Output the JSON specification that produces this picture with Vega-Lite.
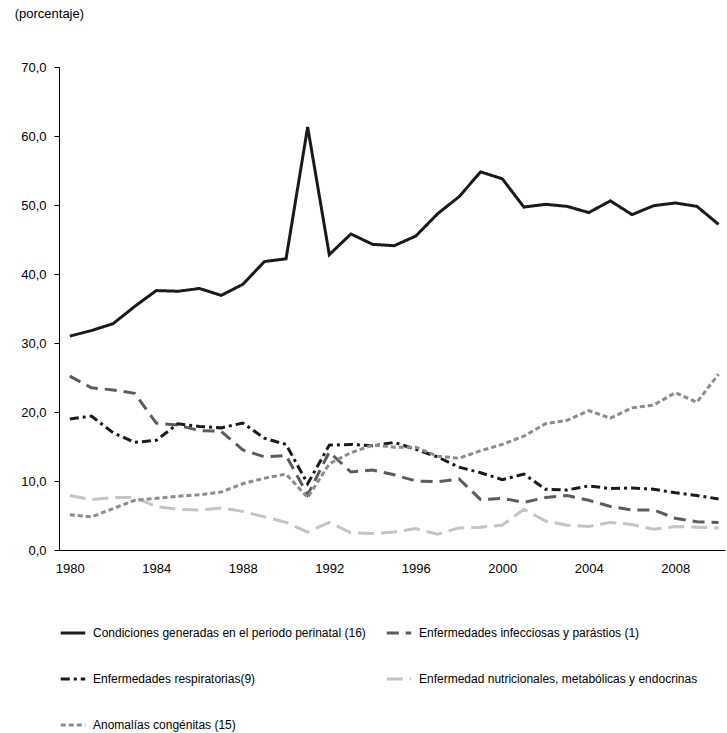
{
  "$schema": "https://vega.github.io/schema/vega-lite/v6.json",
  "autosize": {"type": "fit", "contains": "padding"},
  "width": 727,
  "height": 733,
  "padding": {"left": 14, "right": 2, "top": 8, "bottom": 2},
  "background": "white",
  "title": {"text": "(porcentaje)", "anchor": "start", "frame": "bounds", "fontSize": 13, "fontWeight": "normal", "offset": 40, "dx": -6},
  "data": {"values": [
    {"year":1980,"serie":"Condiciones generadas en el periodo perinatal (16)","valor":31.0},
    {"year":1981,"serie":"Condiciones generadas en el periodo perinatal (16)","valor":31.8},
    {"year":1982,"serie":"Condiciones generadas en el periodo perinatal (16)","valor":32.8},
    {"year":1983,"serie":"Condiciones generadas en el periodo perinatal (16)","valor":35.3},
    {"year":1984,"serie":"Condiciones generadas en el periodo perinatal (16)","valor":37.6},
    {"year":1985,"serie":"Condiciones generadas en el periodo perinatal (16)","valor":37.5},
    {"year":1986,"serie":"Condiciones generadas en el periodo perinatal (16)","valor":37.9},
    {"year":1987,"serie":"Condiciones generadas en el periodo perinatal (16)","valor":36.9},
    {"year":1988,"serie":"Condiciones generadas en el periodo perinatal (16)","valor":38.5},
    {"year":1989,"serie":"Condiciones generadas en el periodo perinatal (16)","valor":41.8},
    {"year":1990,"serie":"Condiciones generadas en el periodo perinatal (16)","valor":42.2},
    {"year":1991,"serie":"Condiciones generadas en el periodo perinatal (16)","valor":61.3},
    {"year":1992,"serie":"Condiciones generadas en el periodo perinatal (16)","valor":42.8},
    {"year":1993,"serie":"Condiciones generadas en el periodo perinatal (16)","valor":45.8},
    {"year":1994,"serie":"Condiciones generadas en el periodo perinatal (16)","valor":44.3},
    {"year":1995,"serie":"Condiciones generadas en el periodo perinatal (16)","valor":44.1},
    {"year":1996,"serie":"Condiciones generadas en el periodo perinatal (16)","valor":45.5},
    {"year":1997,"serie":"Condiciones generadas en el periodo perinatal (16)","valor":48.7},
    {"year":1998,"serie":"Condiciones generadas en el periodo perinatal (16)","valor":51.2},
    {"year":1999,"serie":"Condiciones generadas en el periodo perinatal (16)","valor":54.8},
    {"year":2000,"serie":"Condiciones generadas en el periodo perinatal (16)","valor":53.8},
    {"year":2001,"serie":"Condiciones generadas en el periodo perinatal (16)","valor":49.7},
    {"year":2002,"serie":"Condiciones generadas en el periodo perinatal (16)","valor":50.1},
    {"year":2003,"serie":"Condiciones generadas en el periodo perinatal (16)","valor":49.8},
    {"year":2004,"serie":"Condiciones generadas en el periodo perinatal (16)","valor":48.9},
    {"year":2005,"serie":"Condiciones generadas en el periodo perinatal (16)","valor":50.6},
    {"year":2006,"serie":"Condiciones generadas en el periodo perinatal (16)","valor":48.6},
    {"year":2007,"serie":"Condiciones generadas en el periodo perinatal (16)","valor":49.9},
    {"year":2008,"serie":"Condiciones generadas en el periodo perinatal (16)","valor":50.3},
    {"year":2009,"serie":"Condiciones generadas en el periodo perinatal (16)","valor":49.8},
    {"year":2010,"serie":"Condiciones generadas en el periodo perinatal (16)","valor":47.2},
    {"year":1980,"serie":"Enfermedades infecciosas y parástios (1)","valor":25.2},
    {"year":1981,"serie":"Enfermedades infecciosas y parástios (1)","valor":23.5},
    {"year":1982,"serie":"Enfermedades infecciosas y parástios (1)","valor":23.2},
    {"year":1983,"serie":"Enfermedades infecciosas y parástios (1)","valor":22.7},
    {"year":1984,"serie":"Enfermedades infecciosas y parástios (1)","valor":18.4},
    {"year":1985,"serie":"Enfermedades infecciosas y parástios (1)","valor":18.1},
    {"year":1986,"serie":"Enfermedades infecciosas y parástios (1)","valor":17.3},
    {"year":1987,"serie":"Enfermedades infecciosas y parástios (1)","valor":17.2},
    {"year":1988,"serie":"Enfermedades infecciosas y parástios (1)","valor":14.5},
    {"year":1989,"serie":"Enfermedades infecciosas y parástios (1)","valor":13.5},
    {"year":1990,"serie":"Enfermedades infecciosas y parástios (1)","valor":13.7},
    {"year":1991,"serie":"Enfermedades infecciosas y parástios (1)","valor":8.0},
    {"year":1992,"serie":"Enfermedades infecciosas y parástios (1)","valor":14.2},
    {"year":1993,"serie":"Enfermedades infecciosas y parástios (1)","valor":11.3},
    {"year":1994,"serie":"Enfermedades infecciosas y parástios (1)","valor":11.6},
    {"year":1995,"serie":"Enfermedades infecciosas y parástios (1)","valor":10.9},
    {"year":1996,"serie":"Enfermedades infecciosas y parástios (1)","valor":10.0},
    {"year":1997,"serie":"Enfermedades infecciosas y parástios (1)","valor":9.9},
    {"year":1998,"serie":"Enfermedades infecciosas y parástios (1)","valor":10.3},
    {"year":1999,"serie":"Enfermedades infecciosas y parástios (1)","valor":7.3},
    {"year":2000,"serie":"Enfermedades infecciosas y parástios (1)","valor":7.5},
    {"year":2001,"serie":"Enfermedades infecciosas y parástios (1)","valor":6.9},
    {"year":2002,"serie":"Enfermedades infecciosas y parástios (1)","valor":7.6},
    {"year":2003,"serie":"Enfermedades infecciosas y parástios (1)","valor":7.9},
    {"year":2004,"serie":"Enfermedades infecciosas y parástios (1)","valor":7.2},
    {"year":2005,"serie":"Enfermedades infecciosas y parástios (1)","valor":6.3},
    {"year":2006,"serie":"Enfermedades infecciosas y parástios (1)","valor":5.8},
    {"year":2007,"serie":"Enfermedades infecciosas y parástios (1)","valor":5.8},
    {"year":2008,"serie":"Enfermedades infecciosas y parástios (1)","valor":4.6},
    {"year":2009,"serie":"Enfermedades infecciosas y parástios (1)","valor":4.1},
    {"year":2010,"serie":"Enfermedades infecciosas y parástios (1)","valor":4.0},
    {"year":1980,"serie":"Enfermedades respiratorias(9)","valor":19.0},
    {"year":1981,"serie":"Enfermedades respiratorias(9)","valor":19.4},
    {"year":1982,"serie":"Enfermedades respiratorias(9)","valor":17.0},
    {"year":1983,"serie":"Enfermedades respiratorias(9)","valor":15.6},
    {"year":1984,"serie":"Enfermedades respiratorias(9)","valor":15.9},
    {"year":1985,"serie":"Enfermedades respiratorias(9)","valor":18.3},
    {"year":1986,"serie":"Enfermedades respiratorias(9)","valor":17.9},
    {"year":1987,"serie":"Enfermedades respiratorias(9)","valor":17.7},
    {"year":1988,"serie":"Enfermedades respiratorias(9)","valor":18.4},
    {"year":1989,"serie":"Enfermedades respiratorias(9)","valor":16.2},
    {"year":1990,"serie":"Enfermedades respiratorias(9)","valor":15.3},
    {"year":1991,"serie":"Enfermedades respiratorias(9)","valor":9.6},
    {"year":1992,"serie":"Enfermedades respiratorias(9)","valor":15.2},
    {"year":1993,"serie":"Enfermedades respiratorias(9)","valor":15.3},
    {"year":1994,"serie":"Enfermedades respiratorias(9)","valor":15.1},
    {"year":1995,"serie":"Enfermedades respiratorias(9)","valor":15.6},
    {"year":1996,"serie":"Enfermedades respiratorias(9)","valor":14.6},
    {"year":1997,"serie":"Enfermedades respiratorias(9)","valor":13.5},
    {"year":1998,"serie":"Enfermedades respiratorias(9)","valor":12.0},
    {"year":1999,"serie":"Enfermedades respiratorias(9)","valor":11.2},
    {"year":2000,"serie":"Enfermedades respiratorias(9)","valor":10.2},
    {"year":2001,"serie":"Enfermedades respiratorias(9)","valor":11.0},
    {"year":2002,"serie":"Enfermedades respiratorias(9)","valor":8.8},
    {"year":2003,"serie":"Enfermedades respiratorias(9)","valor":8.7},
    {"year":2004,"serie":"Enfermedades respiratorias(9)","valor":9.3},
    {"year":2005,"serie":"Enfermedades respiratorias(9)","valor":8.9},
    {"year":2006,"serie":"Enfermedades respiratorias(9)","valor":9.0},
    {"year":2007,"serie":"Enfermedades respiratorias(9)","valor":8.8},
    {"year":2008,"serie":"Enfermedades respiratorias(9)","valor":8.3},
    {"year":2009,"serie":"Enfermedades respiratorias(9)","valor":7.9},
    {"year":2010,"serie":"Enfermedades respiratorias(9)","valor":7.4},
    {"year":1980,"serie":"Enfermedad nutricionales, metabólicas y endocrinas","valor":7.9},
    {"year":1981,"serie":"Enfermedad nutricionales, metabólicas y endocrinas","valor":7.3},
    {"year":1982,"serie":"Enfermedad nutricionales, metabólicas y endocrinas","valor":7.6},
    {"year":1983,"serie":"Enfermedad nutricionales, metabólicas y endocrinas","valor":7.6},
    {"year":1984,"serie":"Enfermedad nutricionales, metabólicas y endocrinas","valor":6.3},
    {"year":1985,"serie":"Enfermedad nutricionales, metabólicas y endocrinas","valor":5.9},
    {"year":1986,"serie":"Enfermedad nutricionales, metabólicas y endocrinas","valor":5.8},
    {"year":1987,"serie":"Enfermedad nutricionales, metabólicas y endocrinas","valor":6.1},
    {"year":1988,"serie":"Enfermedad nutricionales, metabólicas y endocrinas","valor":5.6},
    {"year":1989,"serie":"Enfermedad nutricionales, metabólicas y endocrinas","valor":4.8},
    {"year":1990,"serie":"Enfermedad nutricionales, metabólicas y endocrinas","valor":4.0},
    {"year":1991,"serie":"Enfermedad nutricionales, metabólicas y endocrinas","valor":2.6},
    {"year":1992,"serie":"Enfermedad nutricionales, metabólicas y endocrinas","valor":4.0},
    {"year":1993,"serie":"Enfermedad nutricionales, metabólicas y endocrinas","valor":2.5},
    {"year":1994,"serie":"Enfermedad nutricionales, metabólicas y endocrinas","valor":2.4},
    {"year":1995,"serie":"Enfermedad nutricionales, metabólicas y endocrinas","valor":2.6},
    {"year":1996,"serie":"Enfermedad nutricionales, metabólicas y endocrinas","valor":3.1},
    {"year":1997,"serie":"Enfermedad nutricionales, metabólicas y endocrinas","valor":2.3},
    {"year":1998,"serie":"Enfermedad nutricionales, metabólicas y endocrinas","valor":3.2},
    {"year":1999,"serie":"Enfermedad nutricionales, metabólicas y endocrinas","valor":3.3},
    {"year":2000,"serie":"Enfermedad nutricionales, metabólicas y endocrinas","valor":3.6},
    {"year":2001,"serie":"Enfermedad nutricionales, metabólicas y endocrinas","valor":5.9},
    {"year":2002,"serie":"Enfermedad nutricionales, metabólicas y endocrinas","valor":4.2},
    {"year":2003,"serie":"Enfermedad nutricionales, metabólicas y endocrinas","valor":3.6},
    {"year":2004,"serie":"Enfermedad nutricionales, metabólicas y endocrinas","valor":3.4},
    {"year":2005,"serie":"Enfermedad nutricionales, metabólicas y endocrinas","valor":4.0},
    {"year":2006,"serie":"Enfermedad nutricionales, metabólicas y endocrinas","valor":3.7},
    {"year":2007,"serie":"Enfermedad nutricionales, metabólicas y endocrinas","valor":3.0},
    {"year":2008,"serie":"Enfermedad nutricionales, metabólicas y endocrinas","valor":3.4},
    {"year":2009,"serie":"Enfermedad nutricionales, metabólicas y endocrinas","valor":3.3},
    {"year":2010,"serie":"Enfermedad nutricionales, metabólicas y endocrinas","valor":3.2},
    {"year":1980,"serie":"Anomalías congénitas (15)","valor":5.1},
    {"year":1981,"serie":"Anomalías congénitas (15)","valor":4.8},
    {"year":1982,"serie":"Anomalías congénitas (15)","valor":6.0},
    {"year":1983,"serie":"Anomalías congénitas (15)","valor":7.2},
    {"year":1984,"serie":"Anomalías congénitas (15)","valor":7.5},
    {"year":1985,"serie":"Anomalías congénitas (15)","valor":7.8},
    {"year":1986,"serie":"Anomalías congénitas (15)","valor":8.0},
    {"year":1987,"serie":"Anomalías congénitas (15)","valor":8.4},
    {"year":1988,"serie":"Anomalías congénitas (15)","valor":9.6},
    {"year":1989,"serie":"Anomalías congénitas (15)","valor":10.4},
    {"year":1990,"serie":"Anomalías congénitas (15)","valor":11.0},
    {"year":1991,"serie":"Anomalías congénitas (15)","valor":7.6},
    {"year":1992,"serie":"Anomalías congénitas (15)","valor":12.5},
    {"year":1993,"serie":"Anomalías congénitas (15)","valor":14.1},
    {"year":1994,"serie":"Anomalías congénitas (15)","valor":15.2},
    {"year":1995,"serie":"Anomalías congénitas (15)","valor":14.9},
    {"year":1996,"serie":"Anomalías congénitas (15)","valor":14.9},
    {"year":1997,"serie":"Anomalías congénitas (15)","valor":13.6},
    {"year":1998,"serie":"Anomalías congénitas (15)","valor":13.3},
    {"year":1999,"serie":"Anomalías congénitas (15)","valor":14.4},
    {"year":2000,"serie":"Anomalías congénitas (15)","valor":15.3},
    {"year":2001,"serie":"Anomalías congénitas (15)","valor":16.5},
    {"year":2002,"serie":"Anomalías congénitas (15)","valor":18.3},
    {"year":2003,"serie":"Anomalías congénitas (15)","valor":18.8},
    {"year":2004,"serie":"Anomalías congénitas (15)","valor":20.2},
    {"year":2005,"serie":"Anomalías congénitas (15)","valor":19.1},
    {"year":2006,"serie":"Anomalías congénitas (15)","valor":20.6},
    {"year":2007,"serie":"Anomalías congénitas (15)","valor":21.0},
    {"year":2008,"serie":"Anomalías congénitas (15)","valor":22.8},
    {"year":2009,"serie":"Anomalías congénitas (15)","valor":21.4},
    {"year":2010,"serie":"Anomalías congénitas (15)","valor":25.5}
  ]},
  "mark": {"type": "line", "strokeWidth": 3},
  "encoding": {
    "x": {"field": "year", "type": "quantitative", "title": null,
      "scale": {"domain": [1979.5, 2010.3], "nice": false, "zero": false},
      "axis": {"values": [1980,1984,1988,1992,1996,2000,2004,2008], "format": "d", "grid": false, "tickSize": 0, "labelPadding": 12, "domainColor": "#000"}},
    "y": {"field": "valor", "type": "quantitative", "title": null,
      "scale": {"domain": [0, 70], "nice": false},
      "axis": {"values": [0,10,20,30,40,50,60,70], "labelExpr": "replace(format(datum.value, '.1f'), '.', ',')", "grid": false, "tickSize": 5, "tickColor": "#000", "domainColor": "#000", "labelPadding": 8}},
    "color": {"field": "serie", "type": "nominal", "title": null,
      "sort": ["Condiciones generadas en el periodo perinatal (16)", "Enfermedades infecciosas y parástios (1)", "Enfermedades respiratorias(9)", "Enfermedad nutricionales, metabólicas y endocrinas", "Anomalías congénitas (15)"],
      "scale": {"domain": ["Condiciones generadas en el periodo perinatal (16)", "Enfermedades infecciosas y parástios (1)", "Enfermedades respiratorias(9)", "Enfermedad nutricionales, metabólicas y endocrinas", "Anomalías congénitas (15)"],
        "range": ["#1a1a1a", "#5c5c5c", "#1a1a1a", "#c4c4c4", "#8c8c8c"]},
      "legend": {"orient": "bottom", "direction": "horizontal", "columns": 2, "symbolType": "stroke", "symbolSize": 600, "symbolStrokeWidth": 3, "labelFontSize": 12, "labelLimit": 400, "labelOffset": 6, "columnPadding": 14, "rowPadding": 26, "offset": 44, "labelColor": "#000", "padding": 0}},
    "strokeDash": {"field": "serie", "type": "nominal", "title": null,
      "sort": ["Condiciones generadas en el periodo perinatal (16)", "Enfermedades infecciosas y parástios (1)", "Enfermedades respiratorias(9)", "Enfermedad nutricionales, metabólicas y endocrinas", "Anomalías congénitas (15)"],
      "scale": {"domain": ["Condiciones generadas en el periodo perinatal (16)", "Enfermedades infecciosas y parástios (1)", "Enfermedades respiratorias(9)", "Enfermedad nutricionales, metabólicas y endocrinas", "Anomalías congénitas (15)"],
        "range": [[1, 0], [12, 7], [9, 4, 3, 4], [16, 7], [5, 3]]}}
  },
  "config": {
    "font": "Liberation Sans",
    "view": {"stroke": null},
    "axis": {"labelFontSize": 13, "labelColor": "#000"}
  }
}
